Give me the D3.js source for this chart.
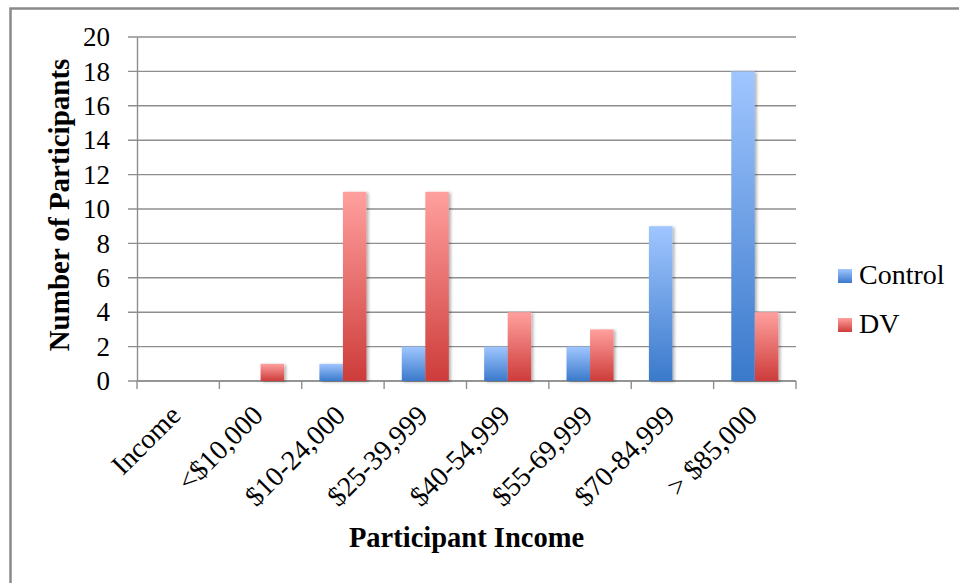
<!DOCTYPE html>
<html>
<head>
<meta charset="utf-8">
<script src="https://cdn.jsdelivr.net/npm/d3@7/dist/d3.min.js"></script>
<style>
  html, body { margin: 0; padding: 0; background: #fff; }
  svg { display: block; }
  text { font-family: "Liberation Serif", "Times New Roman", serif; fill: #000; }
</style>
</head>
<body>
<svg id="chart" width="959" height="583"></svg>
<script>
// Participant income brackets and head counts per group
const categories = ["Income", "<$10,000", "$10-24,000", "$25-39,999", "$40-54,999", "$55-69,999", "$70-84,999", "> $85,000"];
const control = [0, 0, 1, 2, 2, 2, 9, 18];
const dv = [0, 1, 11, 11, 4, 3, 0, 4];
const yTicks = [0, 2, 4, 6, 8, 10, 12, 14, 16, 18, 20];
const seriesNames = ["Control", "DV"];

const svg = d3.select("#chart");
const plot = { left: 137, right: 796, top: 37, bottom: 381 };

// Gradients and soft shadow for the bars
const defs = svg.append("defs");
const grads = [
  { id: "gControl", top: "#a0c6ff", bottom: "#3a79cb" },
  { id: "gDV", top: "#ffa09e", bottom: "#cd3c3a" }
];
grads.forEach(g => {
  const lg = defs.append("linearGradient").attr("id", g.id)
    .attr("x1", 0).attr("y1", 0).attr("x2", 0).attr("y2", 1);
  lg.append("stop").attr("offset", "0%").attr("stop-color", g.top);
  lg.append("stop").attr("offset", "100%").attr("stop-color", g.bottom);
});
const shadow = defs.append("filter").attr("id", "barShadow")
  .attr("x", "-30%").attr("y", "-10%").attr("width", "160%").attr("height", "120%");
shadow.append("feDropShadow").attr("dx", 2).attr("dy", 1)
  .attr("stdDeviation", 1.4).attr("flood-color", "#000").attr("flood-opacity", 0.3);

// Outer chart frame
svg.append("rect")
  .attr("x", 10.5).attr("y", 8.5).attr("width", 1000).attr("height", 700)
  .attr("fill", "none").attr("stroke", "#8a8a8a").attr("stroke-width", 2.5);

const x = d3.scaleBand().domain(categories).range([plot.left, plot.right]).padding(0);
const y = d3.scaleLinear().domain([0, 20]).range([plot.bottom, plot.top]);
const barW = x.bandwidth() / 3.5;

// Horizontal gridlines with outside tick marks
svg.append("g").selectAll("line").data(yTicks).join("line")
  .attr("x1", plot.left - 9).attr("x2", plot.right)
  .attr("y1", d => y(d)).attr("y2", d => y(d))
  .attr("stroke", "#8e8e8e").attr("stroke-width", 1.4);

// Y axis with tick labels
const yAxis = d3.axisLeft(y).tickValues(yTicks).tickSize(0).tickPadding(27);
const gy = svg.append("g").attr("transform", `translate(${plot.left},0)`).call(yAxis);
gy.select(".domain").attr("stroke", "#8e8e8e").attr("stroke-width", 1.4);
gy.selectAll("text").attr("font-size", 27).attr("font-family", "Liberation Serif").attr("fill", "#000");

// X axis line and category boundary ticks
svg.append("line")
  .attr("x1", plot.left).attr("x2", plot.right).attr("y1", plot.bottom).attr("y2", plot.bottom)
  .attr("stroke", "#8e8e8e").attr("stroke-width", 1.4);
const bounds = categories.map(c => x(c)).concat([plot.right]);
svg.append("g").selectAll("line").data(bounds).join("line")
  .attr("x1", d => d).attr("x2", d => d)
  .attr("y1", plot.bottom).attr("y2", plot.bottom + 8)
  .attr("stroke", "#8e8e8e").attr("stroke-width", 1.4);

// Bars
const bars = svg.append("g").attr("filter", "url(#barShadow)");
const center = c => x(c) + x.bandwidth() / 2;
bars.selectAll("rect.control").data(categories).join("rect").attr("class", "control")
  .attr("x", c => center(c) - barW)
  .attr("y", (c, i) => y(control[i]))
  .attr("width", barW)
  .attr("height", (c, i) => y(0) - y(control[i]))
  .attr("fill", "url(#gControl)");
bars.selectAll("rect.dv").data(categories).join("rect").attr("class", "dv")
  .attr("x", c => center(c))
  .attr("y", (c, i) => y(dv[i]))
  .attr("width", barW)
  .attr("height", (c, i) => y(0) - y(dv[i]))
  .attr("fill", "url(#gDV)");

// Rotated category labels
svg.append("g").selectAll("text").data(categories).join("text")
  .attr("transform", c => `translate(${center(c) + 4},${plot.bottom + 36}) rotate(-45)`)
  .attr("text-anchor", "end")
  .attr("font-size", 28)
  .text(c => c);

// Axis titles
svg.append("text")
  .attr("transform", `translate(69,205) rotate(-90)`)
  .attr("text-anchor", "middle")
  .attr("font-size", 29).attr("font-weight", "bold")
  .text("Number of Participants");
svg.append("text")
  .attr("x", (plot.left + plot.right) / 2).attr("y", 547)
  .attr("text-anchor", "middle")
  .attr("font-size", 28.5).attr("font-weight", "bold")
  .text("Participant Income");

// Legend
const legend = svg.append("g");
seriesNames.forEach((name, i) => {
  const ly = 269 + i * 49;
  legend.append("rect").attr("x", 838).attr("y", ly).attr("width", 14).attr("height", 14)
    .attr("fill", i === 0 ? "url(#gControl)" : "url(#gDV)");
  legend.append("text").attr("x", 859).attr("y", ly + 14.5)
    .attr("font-size", 28).text(name);
});
</script>
</body>
</html>
